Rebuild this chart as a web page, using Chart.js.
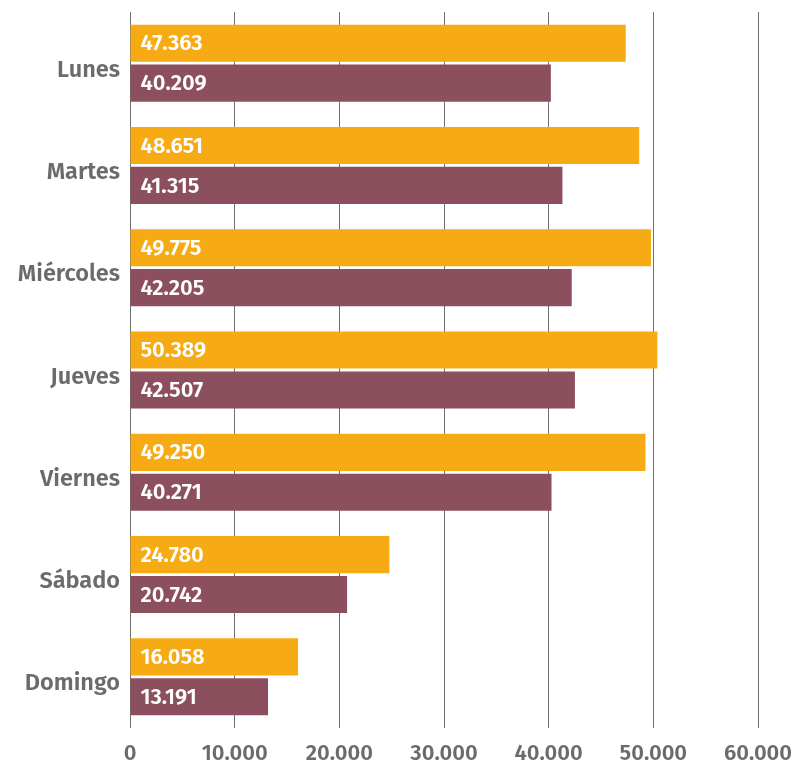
<!DOCTYPE html>
<html><head><meta charset="utf-8">
<script src="https://cdn.jsdelivr.net/npm/chart.js@4/dist/chart.umd.min.js"></script>
<style>html,body{margin:0;padding:0;background:#fff}#wrap{width:793px;height:766px}</style>
</head><body><div id="wrap"><canvas id="c" width="793" height="766"></canvas></div>
<script>
const categories = ["Lunes","Martes","Miércoles","Jueves","Viernes","Sábado","Domingo"];
const seriesA = [47363,48651,49775,50389,49250,24780,16058];
const seriesB = [40209,41315,42205,42507,40271,20742,13191];
const xTicks = [0,10000,20000,30000,40000,50000,60000];

const FONT = "'Fira Sans','Open Sans','Noto Sans',sans-serif";
function fmt(v){return String(v).replace(/\B(?=(\d{3})+(?!\d))/g,'.');}

const labelPlugin = {
  id:'inlabels',
  afterDatasetsDraw(chart){
    const ctx = chart.ctx;
    ctx.save();
    ctx.fillStyle = '#ffffff';
    ctx.font = "600 22px " + FONT;
    ctx.textAlign = 'left';
    ctx.textBaseline = 'middle';
    chart.data.datasets.forEach((ds,i)=>{
      const meta = chart.getDatasetMeta(i);
      meta.data.forEach((bar,j)=>{
        ctx.fillText(fmt(ds.data[j]), bar.base + 10, bar.y + 1);
      });
    });
    ctx.restore();
  }
};

new Chart(document.getElementById('c'),{
  type:'bar',
  data:{
    labels:categories,
    datasets:[
      {data:seriesA, backgroundColor:'#F6AA14', categoryPercentage:0.78, barPercentage:0.93},
      {data:seriesB, backgroundColor:'#8C4F5D', categoryPercentage:0.78, barPercentage:0.93}
    ]
  },
  options:{
    indexAxis:'y',
    responsive:false,
    animation:false,
    layout:{padding:{top:12,right:35,left:0,bottom:0}},
    plugins:{legend:{display:false},tooltip:{enabled:false}},
    scales:{
      x:{
        min:0,max:60000,
        afterBuildTicks(s){s.ticks = xTicks.map(v=>({value:v}));},
        grid:{color:'#707070',lineWidth:1,drawTicks:false},
        border:{display:false},
        ticks:{color:'#6b6b6b',font:{family:FONT,size:22,weight:'600'},padding:13,
          callback:(v)=>fmt(v), maxRotation:0},
        afterFit(s){s.height = 38; s.paddingLeft = 0; s.paddingRight = 0;}
      },
      y:{
        grid:{display:false},
        border:{display:false},
        ticks:{color:'#6b6b6b',font:{family:FONT,size:23.5,weight:'600'},padding:2,labelOffset:7},
        afterFit(s){s.width = 130; s.paddingTop = 0; s.paddingBottom = 0;}
      }
    }
  },
  plugins:[labelPlugin]
});
</script>
</body></html>
